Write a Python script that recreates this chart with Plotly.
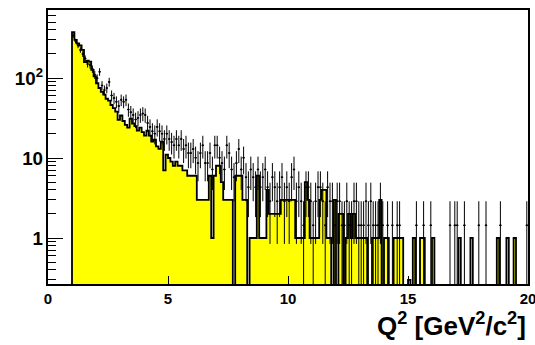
import numpy as np
import plotly.graph_objects as go

# Histogram binning (Q^2 in GeV^2/c^2)
bin_low = 1.0
bin_width = 0.1

# Filled (yellow) histogram contents, one value per 0.1 bin from 1.0 to 20.0
mc_counts = [
    375, 300, 270, 255, 225, 158, 165, 160, 126, 105,   # 1.0-1.9
    86, 75, 67, 62, 55, 52, 46, 42, 38, 30,             # 2.0-2.9
    34, 29, 26, 24, 31, 27, 25, 22, 24, 21,             # 3.0-3.9
    19, 22, 19, 16, 17, 14, 13, 16, 7, 11,              # 4.0-4.9
    10, 9, 8, 9, 8, 8, 7, 7, 6, 6,                      # 5.0-5.9
    6, 6, 3, 3, 3, 3, 3, 6, 1, 6,                       # 6.0-6.9
    8, 8, 5, 3, 3, 3, 3, 0, 6, 6,                       # 7.0-7.9
    6, 3, 3, 0, 1, 1, 1, 6, 1, 1,                       # 8.0-8.9
    1, 4, 2, 2, 2, 2, 2, 3, 3, 3,                       # 9.0-9.9
    3, 3, 3, 1, 1, 1, 1, 5, 3, 1,                       # 10.0-10.9
    1, 1, 1, 3, 4, 4, 1, 1, 0, 3,                       # 11.0-11.9
    0, 2, 2, 0, 1, 2, 1, 2, 1, 1,                       # 12.0-12.9
    1, 1, 1, 0, 0, 1, 1, 1, 3, 0,                       # 13.0-13.9
    1, 1, 0, 0, 1, 1, 1, 1, 0, 0,                       # 14.0-14.9
    0.3, 0, 1, 0, 0, 1, 1, 0, 0, 0,                     # 15.0-15.9
    1, 0, 0, 0, 0, 0, 0, 0, 0, 0,                       # 16.0-16.9
    0, 1, 0, 0, 0, 0, 1, 0, 0, 0,                       # 17.0-17.9
    0, 0, 0, 0, 0, 0, 0, 1, 0, 0,                       # 18.0-18.9
    0, 1, 0, 0, 1, 0, 0, 0, 0, 0,                       # 19.0-19.9
]

# Data points (raw event counts per bin), drawn scaled with sqrt(N) errors
data_counts = [
    236, 201, 177, 156, 139, 122, 104, 101, 90, 76,
    69, 83, 56, 49, 52, 62, 42, 39, 35, 31,
    37, 35, 37, 28, 26, 24, 21, 22, 24, 25,
    24, 19, 17, 15, 14, 17, 15, 14, 12, 14,
    12, 11, 10, 12, 10, 12, 9, 10, 8, 8,
    9, 7, 6, 8, 10, 6, 6, 8, 5, 10,
    10, 7, 6, 5, 10, 8, 5, 4, 6, 9,
    5, 7, 4, 3, 5, 4, 3, 5, 3, 4,
    5, 3, 2, 4, 3, 2, 3, 4, 2, 3,
    2, 4, 5, 2, 3, 2, 1, 3, 3, 2,
    1, 2, 3, 3, 2, 1, 3, 2, 2, 1,
    2, 2, 1, 1, 2, 1, 1, 2, 2, 1,
    1, 1, 2, 1, 2, 1, 1, 1, 2, 1,
    0, 1, 0, 1, 0, 1, 1, 0, 0, 0,
    0, 0, 0, 1, 0, 0, 1, 0, 0, 1,
    0, 0, 0, 0, 0, 0, 0, 1, 0, 1,
    1, 0, 0, 1, 0, 0, 0, 0, 0, 1,
    0, 0, 1, 0, 0, 0, 0, 0, 1, 0,
    0, 0, 0, 0, 0, 0, 0, 0, 0, 1,
]
data_scale = 1.44

x_range = [0, 20]
y_range_log = [-0.575, 2.85]

n = len(mc_counts)
edges = bin_low + bin_width * np.arange(n + 1)
centers = edges[:-1] + bin_width / 2

# histogram outline/fill as a closed step path; empty bins drop below the frame
floor = 10 ** (y_range_log[0] - 2)
mc = np.array(mc_counts, dtype=float)
mc_plot = np.where(mc > 0, mc, floor)
step_x = np.concatenate([[edges[0]], edges[:-1], [edges[-1]], [edges[-1]]])
step_y = np.concatenate([[floor], mc_plot, [mc_plot[-1]], [floor]])

d = np.array(data_counts, dtype=float)
mask = d > 0
d_y = d[mask] * data_scale
d_err = np.sqrt(d[mask]) * data_scale

font_family = "Liberation Sans, Arial, Helvetica, sans-serif"

fig = go.Figure()
fig.add_trace(go.Scatter(
    x=step_x, y=step_y, mode="lines", line_shape="hv",
    line=dict(color="black", width=1.8),
    fill="toself", fillcolor="#ffff00",
    hoverinfo="skip", showlegend=False,
))
fig.add_trace(go.Scatter(
    x=centers[mask], y=d_y, mode="markers",
    marker=dict(size=2, color="black"),
    error_y=dict(type="data", array=d_err, arrayminus=d_err, visible=True,
                 color="black", thickness=1, width=0),
    error_x=dict(type="constant", value=bin_width / 2, visible=True,
                 color="black", thickness=1, width=0),
    showlegend=False,
))

fig.update_layout(
    width=535, height=345,
    margin=dict(l=48, r=7, t=10, b=61, autoexpand=False),
    paper_bgcolor="white", plot_bgcolor="white",
    font=dict(family=font_family, color="black"),
    xaxis=dict(
        range=x_range, tickmode="linear", tick0=0, dtick=5,
        ticks="inside", ticklen=8, tickwidth=1, tickcolor="black",
        showline=True, linewidth=2, linecolor="black", mirror=True,
        showgrid=False, zeroline=False, automargin=False,
        ticklabeloverflow="allow",
        tickfont=dict(size=15, family=font_family, weight="bold"),
    ),
    yaxis=dict(
        type="log", range=y_range_log, tickmode="linear", tick0=0, dtick=1,
        exponentformat="power",
        ticks="inside", ticklen=15, tickwidth=1, tickcolor="black",
        minor=dict(ticks="inside", ticklen=8, dtick="D1", tickcolor="black", tickwidth=1),
        showline=True, linewidth=2, linecolor="black", mirror=True,
        showgrid=False, zeroline=False, automargin=False,
        ticklabeloverflow="allow",
        tickfont=dict(size=15, family=font_family, weight="bold"),
    ),
    annotations=[dict(
        text="Q<sup>2</sup> [GeV<sup>2</sup>/c<sup>2</sup>]",
        xref="paper", yref="paper", x=1.0, y=-0.148,
        xanchor="right", yanchor="middle", showarrow=False,
        font=dict(size=26, family=font_family, weight="bold"),
    )],
)

fig.write_html("out.html")
